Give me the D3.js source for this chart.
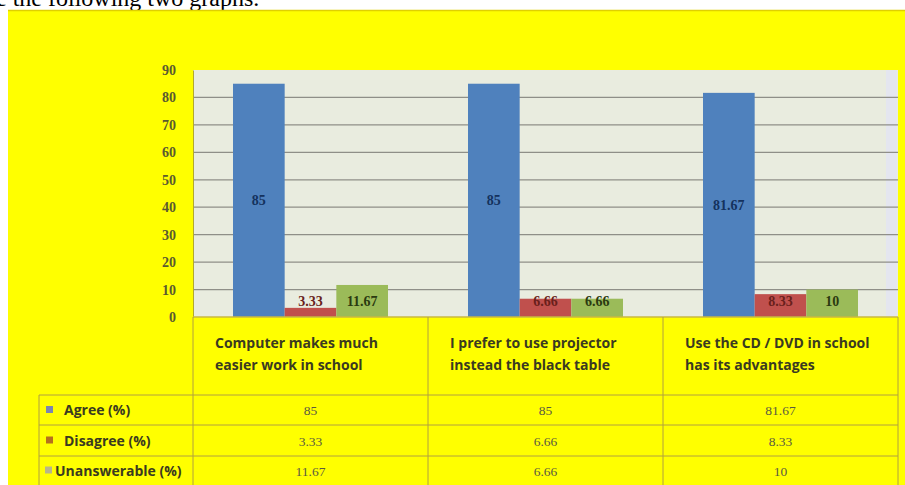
<!DOCTYPE html>
<html><head><meta charset="utf-8">
<script src="https://cdn.jsdelivr.net/npm/d3@7"></script>
<style>html,body{margin:0;padding:0;background:#fff;}svg{display:block;}</style>
</head><body>
<svg id="c" width="905" height="485"></svg>
<script>
const categories = [["Computer makes much","easier work in school"],["I prefer to use projector","instead the black table"],["Use the CD / DVD in school","has its advantages"]];
const seriesNames = ["Agree (%)","Disagree (%)","Unanswerable (%)"];
const agree = [85, 85, 81.67];
const disagree = [3.33, 6.66, 8.33];
const unanswerable = [11.67, 6.66, 10];
const valueLabels = [["85","85","81.67"],["3.33","6.66","8.33"],["11.67","6.66","10"]];
const yTicks = [0,10,20,30,40,50,60,70,80,90];
const seriesValues = [agree, disagree, unanswerable];
const colors = ["#4f81bd","#c0504d","#9bbb59"];
const legendColors = ["#7b86b0","#b5701e","#b8b58a"];
const labelColors = ["#14325e","#6a1f1c","#2b3a10"];

const svg = d3.select("#c");
svg.append("text").attr("x",-4).attr("y",6).attr("font-family","Liberation Serif, serif").attr("font-size",24).attr("fill","#000").text("e the following two graphs.");
svg.append("rect").attr("x",8).attr("y",10).attr("width",897).attr("height",475).attr("fill","#ffff00");
svg.append("line").attr("x1",8).attr("x2",905).attr("y1",10.5).attr("y2",10.5).attr("stroke","#e0d000").attr("stroke-width",1.5);

const x0 = d3.scaleBand().domain(d3.range(categories.length)).range([193,898]);
const x1 = d3.scaleBand().domain(d3.range(seriesNames.length)).range([40, x0.bandwidth()-40]);
const y = d3.scaleLinear().domain([0,90]).range([317,70]);

svg.append("rect").attr("x",193).attr("y",70).attr("width",705).attr("height",247).attr("fill","#e9ecdf");
svg.append("rect").attr("x",886).attr("y",70).attr("width",11).attr("height",247).attr("fill","#e4e6ef");
svg.append("g").selectAll("line").data(yTicks.filter(t=>t>0 && t<90)).join("line")
  .attr("x1",193).attr("x2",898).attr("y1",d=>y(d)).attr("y2",d=>y(d))
  .attr("stroke","#8f8f88").attr("stroke-width",1.3);

const yAxis = d3.axisLeft(y).tickValues(yTicks).tickSize(0).tickPadding(17);
const gy = svg.append("g").attr("transform","translate(193,0)").call(yAxis);
gy.select(".domain").attr("stroke","#b0a830");
gy.selectAll("text").attr("font-family","Liberation Serif, serif").attr("font-size",14).attr("font-weight","bold").attr("fill","#5a5a30");

seriesValues.forEach((vals,si)=>{
  svg.append("g").selectAll("rect").data(vals).join("rect")
    .attr("x",(d,i)=>x0(i)+x1(si)).attr("width",x1.bandwidth())
    .attr("y",d=>y(d)).attr("height",d=>y(0)-y(d)).attr("fill",colors[si]);
  svg.append("g").selectAll("text").data(vals).join("text")
    .attr("x",(d,i)=>x0(i)+x1(si)+x1.bandwidth()/2)
    .attr("y",d=>y(Math.max(d/2,6))+5)
    .attr("text-anchor","middle")
    .attr("font-family","Liberation Serif, serif").attr("font-size",14).attr("font-weight","bold")
    .attr("fill",labelColors[si])
    .text((d,i)=>valueLabels[si][i]);
});

svg.append("line").attr("x1",193).attr("x2",898).attr("y1",y(0)).attr("y2",y(0)).attr("stroke","#c8b840").attr("stroke-width",1.5);

const tableLine = "#b0a040";
const rowY = [317, 395, 425, 456, 485];
categories.forEach((c,i)=>{
  svg.append("line").attr("x1",x0(i)).attr("x2",x0(i)).attr("y1",317).attr("y2",485).attr("stroke",tableLine);
});
svg.append("line").attr("x1",898).attr("x2",898).attr("y1",317).attr("y2",485).attr("stroke",tableLine);
svg.append("line").attr("x1",39).attr("x2",39).attr("y1",395).attr("y2",485).attr("stroke",tableLine);
[395,425,456].forEach(yy=>{
  svg.append("line").attr("x1",39).attr("x2",898).attr("y1",yy).attr("y2",yy).attr("stroke",tableLine);
});
categories.forEach((c,i)=>{
  const t = svg.append("text").attr("font-family","Open Sans, sans-serif").attr("font-size",14).attr("font-weight","bold").attr("fill","#3a3a20");
  c.forEach((line,li)=>{
    t.append("tspan").attr("x",x0(i)+22).attr("y",348+li*22).text(line);
  });
});
seriesNames.forEach((s,si)=>{
  const cy = (rowY[si+1]+rowY[si+2])/2;
  const mx = si===2 ? 45 : 46;
  svg.append("rect").attr("x",mx).attr("y",cy-4).attr("width",7).attr("height",7).attr("fill",legendColors[si]);
  svg.append("text").attr("x",si===2?55:64).attr("y",cy+5)
    .attr("font-family","Open Sans, sans-serif").attr("font-size",14).attr("font-weight","bold").attr("fill","#3a3a20").text(s);
  seriesValues[si].forEach((v,i)=>{
    svg.append("text").attr("x",x0(i)+x0.bandwidth()/2).attr("y",cy+5).attr("text-anchor","middle")
      .attr("font-family","Liberation Serif, serif").attr("font-size",13.5).attr("fill","#5a5a40").text(valueLabels[si][i]);
  });
});
</script>
</body></html>
